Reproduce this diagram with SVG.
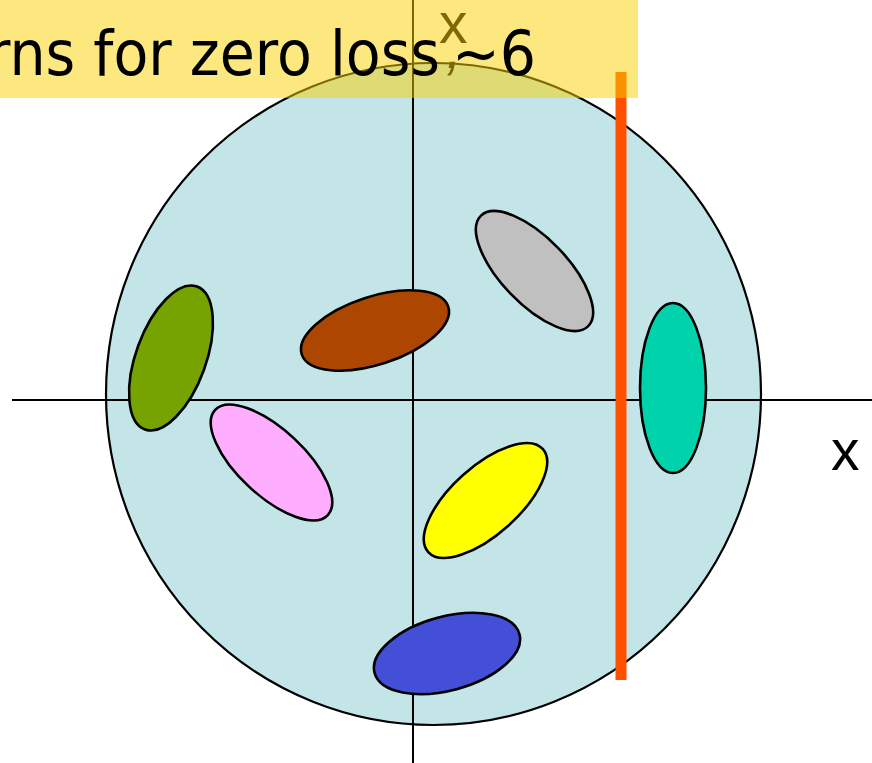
<svg xmlns="http://www.w3.org/2000/svg" width="872" height="763" viewBox="0 0 872 763">
<style>
.blob{stroke:#000;stroke-width:2.6}
.axis{stroke:#000;stroke-width:2;fill:none}
.lbl{font-family:"Liberation Sans",Arial,sans-serif;font-size:57px;fill:#000}
.title{font-family:"DejaVu Sans",Verdana,sans-serif;font-size:57px;fill:#000}
</style>
<rect width="872" height="763" fill="#fff"/>
<g id="disk">
<ellipse cx="433.5" cy="394" rx="327.5" ry="331" fill="#C4E5E8" stroke="#000" stroke-width="2.2"/>
</g>
<g id="axes">
<line class="axis" x1="12" y1="400" x2="872" y2="400"/>
<line class="axis" x1="413" y1="0" x2="413" y2="763"/>
</g>
<g id="green"><ellipse class="blob" fill="#76A300" cx="171" cy="358" rx="35" ry="76" transform="rotate(20 171 358)"/></g>
<g id="brown"><ellipse class="blob" fill="#AD4600" cx="375" cy="330.5" rx="77" ry="34" transform="rotate(-18 375 330.5)"/></g>
<g id="gray"><ellipse class="blob" fill="#C0C0C0" cx="534.5" cy="271" rx="77" ry="33" transform="rotate(46 534.5 271)"/></g>
<g id="teal"><ellipse class="blob" fill="#00D2AC" cx="673" cy="388" rx="33" ry="85"/></g>
<g id="pink"><ellipse class="blob" fill="#FFAEFF" cx="271.5" cy="462.5" rx="77" ry="33" transform="rotate(43 271.5 462.5)"/></g>
<g id="yellow"><ellipse class="blob" fill="#FFFF00" cx="485.5" cy="500.5" rx="77" ry="34" transform="rotate(-42 485.5 500.5)"/></g>
<g id="blue"><ellipse class="blob" fill="#444FD8" cx="447" cy="653.5" rx="75" ry="37" transform="rotate(-15 447 653.5)"/></g>
<g id="cut"><rect x="615.5" y="72" width="11" height="608" fill="#FF5000"/></g>
<g id="labels">
<text class="lbl" x="831" y="470">x</text>
<text class="lbl" x="439" y="43">x</text>
<text class="lbl" x="446" y="68" font-style="italic">,</text>
</g>
<g id="banner">
<rect x="0" y="0" width="638" height="98" fill="#FAD200" fill-opacity="0.5"/>
<g transform="translate(0,75) scale(1,1.08)">
<text class="title" x="-13" y="0">rns for zero loss</text>
<text class="title" x="452" y="0">~6</text>
</g>
</g>
</svg>
